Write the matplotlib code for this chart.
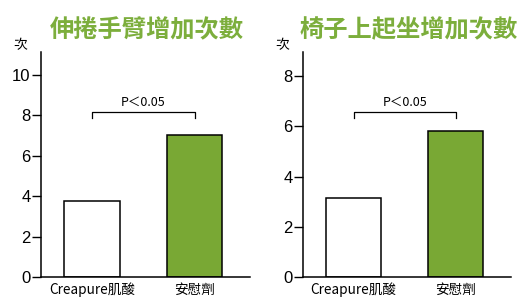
import matplotlib.pyplot as plt

plt.rcParams['font.family'] = ['Noto Sans CJK TC', 'DejaVu Sans']

categories = ['Creapure肌酸', '安慰劑']
titles = ['伸捲手臂增加次數', '椅子上起坐增加次數']
arm_values = [3.75, 7.03]
chair_values = [3.15, 5.82]
arm_ticks = [0, 2, 4, 6, 8, 10]
chair_ticks = [0, 2, 4, 6, 8]
p_label = 'P＜0.05'

green = '#79a834'
title_green = '#7cae3c'

fig = plt.figure(figsize=(5.26, 3.06), dpi=100)

panels = [
    # left, width, values, ticks, ymax, bracket y
    (41, 209, arm_values, arm_ticks, 11.14, 8.17),
    (303, 208, chair_values, chair_ticks, 8.96, 6.57),
]

for i, (left, width, values, ticks, ymax, by) in enumerate(panels):
    ax = fig.add_axes([left / 526, 29 / 306, width / 526, 225 / 306])
    x = [0, 1]
    ax.bar(x, values, width=0.54, color=['white', green],
           edgecolor='black', linewidth=1.1, zorder=2)
    ax.set_xlim(-0.495, 1.54)
    ax.set_ylim(0, ymax)
    ax.set_yticks(ticks)
    ax.set_yticklabels([str(t) for t in ticks], family='Liberation Sans',
                       fontsize=12)
    ax.set_xticks(x)
    ax.set_xticklabels(categories, fontsize=9.8)
    ax.tick_params(axis='x', length=0, pad=4)
    ax.tick_params(axis='y', length=6.5, width=1, pad=1)
    for s in ['top', 'right']:
        ax.spines[s].set_visible(False)
    for s in ['left', 'bottom']:
        ax.spines[s].set_linewidth(1.1)

    # significance bracket
    drop = ymax * 0.027
    ax.plot([0, 0, 1, 1], [by - drop, by, by, by - drop],
            color='black', linewidth=0.9)
    ax.text(0.5, by + ymax * 0.012, p_label, ha='center', va='bottom',
            fontsize=9)

    ax.text(-0.1, 1.0, '次', transform=ax.transAxes, ha='center',
            va='bottom', fontsize=10)

    fig.text((left + 106) / 526, 0.90, titles[i], ha='center', va='center',
             fontsize=17.5, fontweight='bold', color=title_green)

fig.savefig('out.png', dpi=100)
